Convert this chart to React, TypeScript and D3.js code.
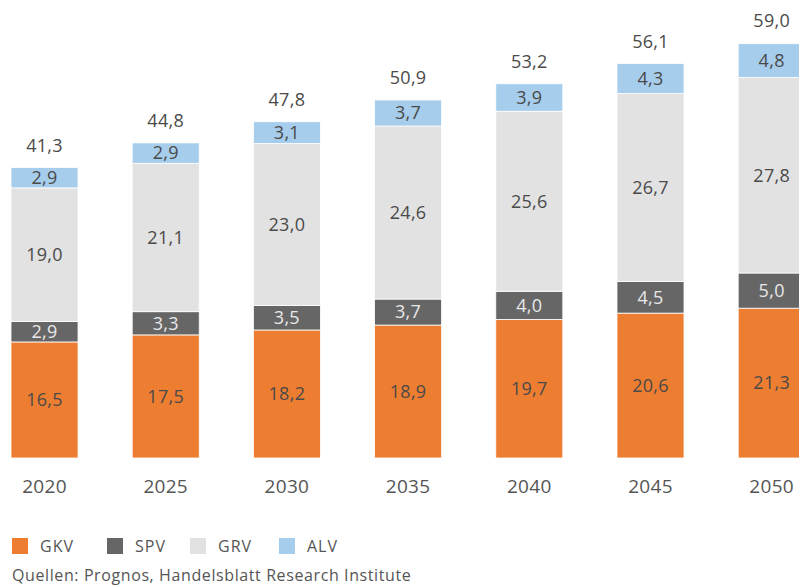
import React from "react";
import * as d3 from "d3";

const years = ["2020", "2025", "2030", "2035", "2040", "2045", "2050"];
const gkv = [16.5, 17.5, 18.2, 18.9, 19.7, 20.6, 21.3];
const spv = [2.9, 3.3, 3.5, 3.7, 4.0, 4.5, 5.0];
const grv = [19.0, 21.1, 23.0, 24.6, 25.6, 26.7, 27.8];
const alv = [2.9, 2.9, 3.1, 3.7, 3.9, 4.3, 4.8];
const totals = [41.3, 44.8, 47.8, 50.9, 53.2, 56.1, 59.0];
const seriesNames = ["GKV", "SPV", "GRV", "ALV"];
const colors = ["#ED7D31", "#666666", "#E2E2E2", "#A6CDEB"];
const labelColors = ["#4a4a4a", "#e8e8e8", "#4a4a4a", "#4a4a4a"];

const W = 799;
const H = 587;
const FONT = "'Open Sans', Lato, sans-serif";
const fmt = (v: number) => v.toFixed(1).replace(".", ",");

export default function App() {
  const x = d3.scaleBand<string>().domain(years).range([11, 805.2]).paddingInner(0.447).paddingOuter(0);
  const y = d3.scaleLinear().domain([0, 59]).range([458, 43]);
  const rows = years.map((yr, i) => ({ year: yr, GKV: gkv[i], SPV: spv[i], GRV: grv[i], ALV: alv[i] }));
  const stack = d3.stack<any>().keys(seriesNames)(rows);
  const bw = x.bandwidth();

  return (
    <svg width={W} height={H} style={{ position: "absolute", left: 0, top: 0, background: "#fff" }} fontFamily={FONT}>
      {stack.map((layer, si) => (
        <g key={seriesNames[si]}>
          {layer.map((d, i) => {
            const x0 = x(years[i])!;
            const yTop = y(d[1]);
            const yBot = y(d[0]);
            return (
              <g key={i}>
                <rect x={x0} y={yTop} width={bw} height={yBot - yTop} fill={colors[si]} stroke="#fff" strokeWidth={0.8} />
                <text x={x0 + bw / 2} y={(yTop + yBot) / 2} dy="0.35em" textAnchor="middle" fontSize={18} fill={labelColors[si]} letterSpacing={0.3}>
                  {fmt(d[1] - d[0])}
                </text>
              </g>
            );
          })}
        </g>
      ))}
      {years.map((yr, i) => (
        <g key={yr}>
          <text x={x(yr)! + bw / 2} y={y(totals[i]) - 22} dy="0.35em" textAnchor="middle" fontSize={18} fill="#4a4a4a" letterSpacing={0.3}>
            {fmt(totals[i])}
          </text>
          <text x={x(yr)! + bw / 2} y={486} dy="0.35em" textAnchor="middle" fontSize={19} fill="#555" letterSpacing={0.3}>
            {yr}
          </text>
        </g>
      ))}
      {seriesNames.map((s, i) => {
        const lx = [12, 107, 190, 279][i];
        return (
          <g key={s}>
            <rect x={lx} y={538} width={16} height={16} fill={colors[i]} />
            <text x={lx + 28} y={546} dy="0.35em" fontSize={16} fill="#555" letterSpacing={1}>
              {s}
            </text>
          </g>
        );
      })}
      <text x={12} y={575} dy="0.35em" fontSize={16} fill="#555" letterSpacing={0.6}>
        Quellen: Prognos, Handelsblatt Research Institute
      </text>
    </svg>
  );
}
